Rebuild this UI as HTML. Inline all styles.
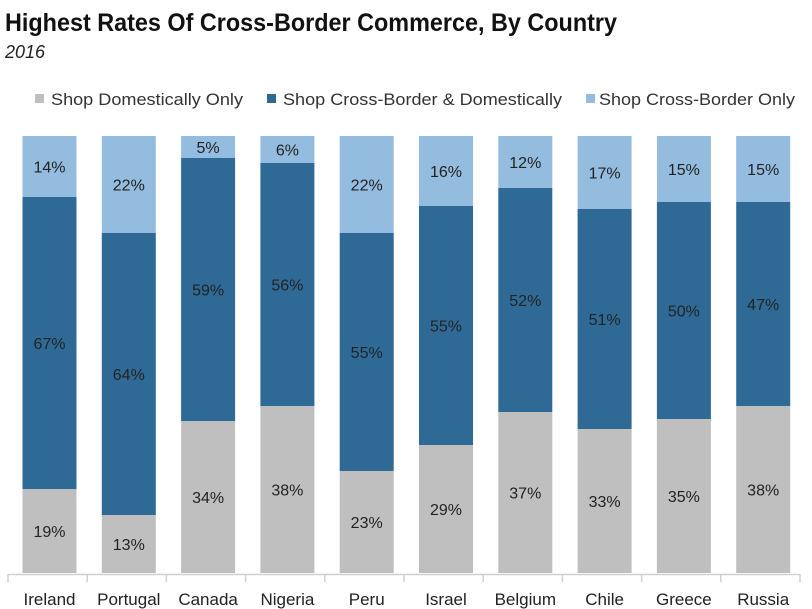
<!DOCTYPE html>
<html><head><meta charset="utf-8"><style>
html,body{margin:0;padding:0;background:#fff;}
svg{display:block;font-family:"Liberation Sans",sans-serif;}
</style></head><body>
<svg width="812" height="609" viewBox="0 0 812 609" xmlns="http://www.w3.org/2000/svg">
<text x="5" y="31" font-size="25" font-weight="bold" fill="#111" textLength="612" lengthAdjust="spacingAndGlyphs">Highest Rates Of Cross-Border Commerce, By Country</text>
<text x="5" y="58" font-size="18" font-style="italic" fill="#222" textLength="40" lengthAdjust="spacingAndGlyphs">2016</text>
<rect x="35" y="94" width="9" height="9" fill="#bfbfbf"/>
<text x="51" y="105" font-size="17" fill="#333" textLength="192" lengthAdjust="spacingAndGlyphs">Shop Domestically Only</text>
<rect x="267" y="94" width="9" height="9" fill="#2f6a97"/>
<text x="283" y="105" font-size="17" fill="#333" textLength="279" lengthAdjust="spacingAndGlyphs">Shop Cross-Border &amp; Domestically</text>
<rect x="586" y="94" width="9" height="9" fill="#94bcdf"/>
<text x="599" y="105" font-size="17" fill="#333" textLength="196" lengthAdjust="spacingAndGlyphs">Shop Cross-Border Only</text>
<g id="bars" font-size="16" fill="#222" text-anchor="middle"></g>
<line x1="8" y1="574.5" x2="800" y2="574.5" stroke="#d0d0d0" stroke-width="1.5"/>
<g id="ticks" stroke="#d0d0d0" stroke-width="1.5"></g>
<g id="cats" font-size="17" fill="#222" text-anchor="middle"></g>
</svg>
<script>
var d=[["Ireland",489,197,"19%","67%","14%"],["Portugal",515,233,"13%","64%","22%"],["Canada",421,158,"34%","59%","5%"],["Nigeria",406,163,"38%","56%","6%"],["Peru",471,233,"23%","55%","22%"],["Israel",445,206,"29%","55%","16%"],["Belgium",412,188,"37%","52%","12%"],["Chile",429,209,"33%","51%","17%"],["Greece",419,202,"35%","50%","15%"],["Russia",406,202,"38%","47%","15%"]];
var yTop=136,bot=573,ns="http://www.w3.org/2000/svg";
function el(p,t,a,txt){var e=document.createElementNS(ns,t);for(var k in a)e.setAttribute(k,a[k]);if(txt)e.textContent=txt;document.getElementById(p).appendChild(e);}
for(var i=0;i<d.length;i++){var r=d[i],x=22.5+i*79.3,cx=x+27;
el("bars","rect",{x:x,y:r[1],width:54,height:bot-r[1],fill:"#bfbfbf"});
el("bars","rect",{x:x,y:r[2],width:54,height:r[1]-r[2],fill:"#2f6a97"});
el("bars","rect",{x:x,y:yTop,width:54,height:r[2]-yTop,fill:"#94bcdf"});
el("bars","text",{x:cx,y:(r[1]+bot)/2+6},r[3]);
el("bars","text",{x:cx,y:(r[1]+r[2])/2+6},r[4]);
el("bars","text",{x:cx,y:(r[2]+yTop)/2+6},r[5]);
el("cats","text",{x:cx,y:605},r[0]);}
for(var k=0;k<=10;k++){var tx=8+k*79.2;el("ticks","line",{x1:tx,y1:574,x2:tx,y2:582});}
</script>
</body></html>
